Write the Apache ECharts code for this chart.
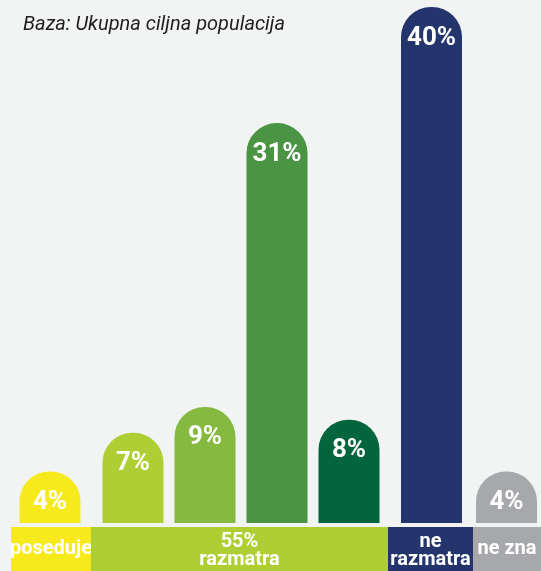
<!DOCTYPE html>
<html>
<head>
<meta charset="utf-8">
<script src="https://cdn.jsdelivr.net/npm/echarts@6/dist/echarts.min.js"></script>
<style>
  html, body { margin: 0; padding: 0; background: #f2f3f3; }
  #main { width: 541px; height: 571px; }
</style>
</head>
<body>
<div id="main"></div>
<script>
// podaci po grupama
const posedujeVals = [4];
const razmatraVals = [7, 9, 31, 8];
const neRazmatraVals = [40];
const neZnaVals = [4];
const barColors = ["#f7ea1c", ["#aecf33", "#86b940", "#4a9443", "#03653b"], "#24356e", "#a7a8ab"];
const groupLabels = ["poseduje", "55%\nrazmatra", "ne\nrazmatra", "ne zna"];
const titleText = "Baza: Ukupna ciljna populacija";

var chart = echarts.init(document.getElementById("main"));

// 4 grida, svaki za svoju grupu stubaca
const grids = [
  { left: 10, width: 80, top: 7, bottom: 48 },
  { left: 97, width: 288, top: 7, bottom: 48 },
  { left: 389, width: 85, top: 7, bottom: 48 },
  { left: 472, width: 78, top: 7, bottom: 48 },
];
const groups = [posedujeVals, razmatraVals, neRazmatraVals, neZnaVals];

const xAxes = [];
const yAxes = [];
const series = [];
groups.forEach((vals, i) => {
  xAxes.push({
    type: "category",
    gridIndex: i,
    data: vals.map((v, j) => "c" + i + j),
    show: false,
  });
  yAxes.push({
    type: "value",
    gridIndex: i,
    min: 0,
    max: 40,
    show: false,
  });
  series.push({
    type: "bar",
    xAxisIndex: i,
    yAxisIndex: i,
    barWidth: 61,
    data: vals.map((v, j) => ({
      value: v,
      itemStyle: {
        color: Array.isArray(barColors[i]) ? barColors[i][j] : barColors[i],
      },
    })),
    itemStyle: { borderRadius: [30, 30, 0, 0] },
    label: {
      show: true,
      position: "insideTop",
      distance: 18,
      formatter: "{c}%",
      color: "#fff",
      fontSize: 26,
      fontWeight: "bold",
      fontFamily: "Roboto",
    },
    silent: true,
  });
});

// traka sa grupama na dnu
const bandX = [11, 91, 388, 473];
const bandW = [80, 297, 85, 68];
const bandColors = ["#f7ea1c", "#aecf33", "#24356e", "#a7a8ab"];
const graphics = [];
groupLabels.forEach((t, i) => {
  graphics.push({
    type: "rect",
    left: bandX[i],
    top: 527,
    shape: { width: bandW[i], height: 44 },
    style: { fill: bandColors[i] },
  });
  graphics.push({
    type: "text",
    x: bandX[i] + bandW[i] / 2,
    y: t.indexOf("\n") >= 0 ? 551 : 549,
    style: {
      text: t,
      fill: "#fff",
      font: "bold 20px Roboto",
      lineHeight: 18,
      align: "center",
      verticalAlign: "middle",
    },
  });
});

chart.setOption({
  backgroundColor: "#f2f3f3",
  animation: false,
  title: {
    text: titleText,
    left: 18,
    top: 10,
    textStyle: {
      fontSize: 20,
      fontStyle: "italic",
      fontWeight: "normal",
      fontFamily: "Roboto",
      color: "#1e1e1e",
    },
  },
  grid: grids,
  xAxis: xAxes,
  yAxis: yAxes,
  series: series,
  graphic: graphics,
});
</script>
</body>
</html>
